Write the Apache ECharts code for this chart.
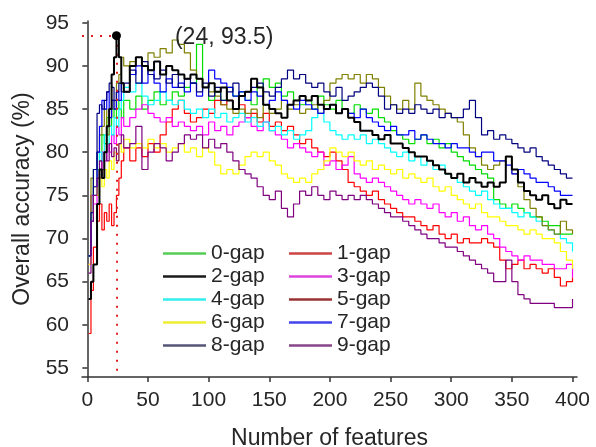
<!DOCTYPE html>
<html>
<head>
<meta charset="utf-8">
<script src="https://cdn.jsdelivr.net/npm/echarts@6/dist/echarts.min.js"></script>
<style>html,body{margin:0;padding:0;background:#fff;}#c{width:596px;height:447px;}</style>
</head>
<body>
<div id="c"></div>
<script>
// Number of features (x positions of samples)
const features = [1, 3, 5, 8, 10, 12, 14, 16, 18, 20, 22, 24, 26, 28, 30,
  35, 40, 45, 50, 55, 60, 65, 70, 75, 80,
  85, 90, 95, 100, 105, 110, 115, 120, 125, 130,
  135, 140, 145, 150, 155, 160, 165, 170, 175, 180,
  185, 190, 195, 200, 205, 210, 215, 220, 225, 230,
  235, 240, 245, 250, 255, 260, 265, 270, 275, 280,
  285, 290, 295, 300, 305, 310, 315, 320, 325, 330,
  335, 340, 345, 350, 355, 360, 365, 370, 375, 380,
  385, 390, 395, 400];

const gap0 = [68, 75, 78, 80, 79, 82, 81, 84, 83, 85, 84, 86, 85, 84, 86,
  85, 86.5, 85, 86, 87, 85.5, 86, 87, 86.5, 87.5,
  88, 92.5, 87.5, 86, 87, 86, 87.5, 86.5, 87, 86,
  85.5, 87.5, 88.5, 87.5, 88, 86.5, 87, 86, 85.5, 86,
  85, 86.5, 85.5, 85, 86, 85, 84.5, 85.5, 85, 84.5,
  85, 84, 83.5, 82.5, 82, 81.5, 81, 81.5, 82, 81,
  81.5, 80.5, 81, 80, 79.5, 79, 78.5, 78, 77.5, 77,
  74.5, 74, 73.5, 74, 73.5, 73, 72.5, 72.5, 72, 71.5,
  71.5, 70.5, 70.5, 70.5];

const gap1 = [59, 64, 69, 72, 74, 71, 73, 72, 74, 71.5, 73, 75, 77, 79, 80.5,
  79, 80.5, 79.5, 81, 80, 82, 83.5, 85, 86, 84.5,
  83.5, 84, 85, 84.5, 86, 85.5, 86, 85, 85.5, 84,
  84.5, 83.5, 84.5, 83, 83.5, 82.5, 83, 82, 81, 81.5,
  80.5, 80, 79.5, 80, 79, 78, 76.5, 76, 75.5, 75,
  75.5, 74.5, 74, 73.5, 73, 72.5, 72.5, 72, 71.5, 71,
  71.5, 70.5, 70, 70.5, 69.5, 70, 69.5, 69.5, 70, 69.5,
  69, 67.5, 66.5, 67, 67.5, 66.5, 67, 66.5, 66, 66.5,
  65.5, 64.5, 65, 65.5];

const gap2 = [63, 65, 67, 74, 78, 77, 80, 83, 85, 89, 91, 93.5, 91, 88, 87,
  90, 91, 90, 89.5, 90.5, 89, 90, 89.5, 89, 88.5,
  89, 88.5, 87.5, 88, 87, 87.5, 86, 85, 86.5, 87,
  88.5, 87.5, 85.5, 85, 84.5, 84, 85.5, 86, 86.5, 86,
  86.5, 85.5, 85, 85.5, 84.5, 85, 84, 83.5, 82.5, 82.5,
  82, 81.5, 82, 81, 81, 80.5, 80, 79.5, 79.5, 79,
  78.5, 78, 77.5, 77, 77.5, 76.5, 77, 76.5, 76, 76.5,
  76, 76.5, 79.5, 78, 76.5, 75.5, 75, 74.5, 75, 74,
  73.5, 74.5, 74, 74];

const gap3 = [67, 75, 74, 78, 77, 80, 79, 81, 80, 82, 81, 83, 82, 84, 83,
  84, 85, 85.5, 84.5, 84, 83.5, 84, 83, 83.5, 83,
  82.5, 83, 82, 83.5, 82.5, 83, 82, 83, 83.5, 84,
  83, 82.5, 83.5, 82.5, 82, 81.5, 80.5, 81, 80.5, 80,
  79.5, 80, 78.5, 79, 78, 78.5, 79.5, 77.5, 77, 76.5,
  77, 76.5, 76, 75.5, 75, 74.5, 74, 74.5, 74, 73.5,
  74, 73, 72.5, 73, 72, 72.5, 71.5, 71, 71.5, 70.5,
  70, 69, 68.5, 68, 67.5, 68, 67.5, 67.5, 67, 67,
  66.5, 66.5, 67, 65.5];

const gap4 = [68, 73, 75, 78, 80, 79, 82, 81, 83, 82, 84, 83, 85, 86, 87.5,
  87, 88, 86.5, 85.5, 86, 87, 86, 85.5, 86, 85,
  84.5, 85, 84, 85, 84, 84.5, 83.5, 84, 84.5, 83.5,
  84, 83, 83.5, 82.5, 83, 82, 82.5, 81.5, 82, 82.5,
  84, 84.5, 83.5, 82.5, 82, 81.5, 82, 81.5, 82, 81,
  81.5, 81, 80.5, 80, 79.5, 80, 79, 79.5, 78.5, 79,
  78, 78.5, 77.5, 77, 76.5, 76, 75.5, 75, 75.5, 74.5,
  74, 73.5, 73.5, 73, 72.5, 73, 72.5, 72, 71.5, 71,
  70.5, 70, 69.5, 68.5];

const gap5 = [68, 77, 76, 80, 82, 83, 85, 82, 84, 86, 85, 88, 89, 91, 90,
  90.5, 91, 90, 91.5, 91, 92, 91.5, 93, 92.5, 91.5,
  89.5, 88.5, 87.5, 87, 86.5, 85.5, 85, 84.5, 85, 84.5,
  85, 84, 85.5, 84.5, 85, 86, 85, 85.5, 84.5, 85,
  85.5, 84.5, 86, 88, 88.5, 89, 88.5, 89, 88, 89,
  88.5, 87.5, 86.5, 85.5, 85, 86, 85, 88, 86.5, 86,
  85.5, 85, 84.5, 84, 83.5, 82, 80.5, 79.5, 78.5, 78,
  78.5, 79, 79.5, 77.5, 76, 74.5, 73.5, 72.5, 71.5, 71,
  70.5, 72, 71, 70.5];

const gap6 = [67, 72, 76, 75, 77, 76, 78, 77, 79, 78, 80, 79, 81, 80, 81.5,
  80.5, 81, 80.5, 81.5, 80.5, 81, 80, 80.5, 81, 80,
  80.5, 79.5, 80.5, 80, 78.5, 77.5, 78, 77.5, 78.5, 79.5,
  80, 79.5, 80, 79, 78.5, 77.5, 77, 76.5, 77, 76.5,
  77.5, 78, 79, 80.5, 80, 79.5, 80, 79, 78.5, 79,
  78, 78.5, 78, 77.5, 78, 77, 77.5, 77, 76.5, 77,
  76, 75.5, 76, 75, 74.5, 74, 73.5, 74, 73, 72.5,
  72.5, 72, 71.5, 71.5, 71, 70.5, 71, 70.5, 70, 70,
  69.5, 68.5, 67.5, 66.5];

const gap7 = [68, 72, 76, 80, 83, 86, 85, 87, 84, 86, 85, 87, 86, 88, 87,
  89, 90, 88, 89.5, 88, 87, 88.5, 87.5, 88, 87,
  88, 86.5, 87.5, 89.5, 88.5, 88, 87.5, 86.5, 87, 86,
  87, 86.5, 85.5, 86, 87, 86, 85.5, 85, 86, 85.5,
  85, 84.5, 85, 85.5, 84.5, 85, 84.5, 84, 85, 84,
  83.5, 83, 82.5, 83, 82, 82, 82.5, 81.5, 82, 81.5,
  81, 81, 80.5, 81, 80.5, 80.5, 80, 79.5, 80, 80,
  79, 79, 78.5, 77.5, 78, 77.5, 77, 76.5, 76.5, 76,
  75.5, 75, 75, 75];

const gap8 = [68, 73, 78, 84.5, 85.5, 85, 86, 87, 88, 87.5, 86, 87, 88, 87, 88,
  89.5, 88, 90.5, 89, 88.5, 89.5, 88, 89, 87.5, 88.5,
  88, 87, 88, 86.5, 87.5, 86, 87, 88, 86.5, 87,
  87.5, 88, 87, 86.5, 87.5, 88.5, 89.5, 88.5, 89, 88,
  87.5, 88, 87, 86.5, 87.5, 86, 86.5, 87, 87.5, 88,
  87.5, 86.5, 85, 85.5, 84.5, 85, 84.5, 85.5, 85, 84.5,
  85, 84, 84.5, 84, 84, 85, 86, 84, 82, 82.5,
  81.5, 82, 81.5, 81, 80.5, 80, 80.5, 79.5, 79, 78.5,
  78, 77.5, 77, 77];

const gap9 = [66, 72, 75, 77, 79, 78, 80, 79, 81, 79.5, 80.5, 79, 81, 82, 80.5,
  81, 83, 78, 80, 81, 80.5, 79, 80, 81, 82,
  81.5, 82, 80.5, 81.5, 80.5, 81, 80, 79, 78, 77.5,
  77, 76, 75, 74.5, 75.5, 73.5, 72.5, 74, 75.5, 75,
  76, 75, 74.5, 75.5, 75, 74.5, 75, 74.5, 75, 74.5,
  74, 73.5, 73, 72.5, 72.5, 72, 71.5, 71, 70.5, 70,
  70, 69.5, 69, 69, 68.5, 68, 67.5, 67, 66.5, 66,
  65, 65, 67.5, 65, 63.5, 63, 62.5, 62.5, 62.5, 62.5,
  62, 62, 62, 63];

const seriesNames = ['0-gap', '1-gap', '2-gap', '3-gap', '4-gap', '5-gap', '6-gap', '7-gap', '8-gap', '9-gap'];
const seriesValues = [gap0, gap1, gap2, gap3, gap4, gap5, gap6, gap7, gap8, gap9];
const seriesColors = ['#00dd00', '#ff0000', '#000000', '#ff00ff', '#00ffff', '#808000', '#ffff00', '#0000ff', '#000080', '#800080'];
const legendColors = ['#55cc55', '#cc4444', '#1a1a1a', '#dd44dd', '#33eeee', '#993333', '#eeee33', '#4444ee', '#555577', '#884488'];

const xTicks = [0, 50, 100, 150, 200, 250, 300, 350, 400];
const yTicks = [55, 60, 65, 70, 75, 80, 85, 90, 95];
const peak = [24, 93.5];

const xMin = -4.4, xMax = 403.7, yMin = 53.96, yMax = 95.2;
const FONT = '"Liberation Sans", Arial, sans-serif';
const TXT = '#262626';

const chart = echarts.init(document.getElementById('c'), null, {renderer: 'canvas'});

const series = seriesNames.map((name, k) => {
  const s = {
    name: name,
    type: 'line',
    step: 'end',
    symbol: 'none',
    animation: false,
    color: seriesColors[k],
    lineStyle: {width: k === 2 ? 2 : 1.2, color: seriesColors[k]},
    data: features.map((f, i) => [f, seriesValues[k][i]]),
    z: k === 2 ? 5 : 2
  };
  if (k === 2) {
    s.markLine = {
      silent: true, symbol: 'none', animation: false,
      label: {show: false},
      lineStyle: {color: '#e02020', type: [2, 7], width: 2},
      data: [
        [{coord: [xMin, peak[1]]}, {coord: peak}],
        [{coord: peak}, {coord: [peak[0], yMin]}]
      ]
    };
    s.markPoint = {
      animation: false,
      data: [{
        coord: peak, symbol: 'circle', symbolSize: 9,
        itemStyle: {color: '#000'},
        label: {
          show: true, position: 'right', distance: 0, offset: [54, 2],
          formatter: '(' + peak[0] + ', ' + peak[1] + ')',
          fontSize: 23, color: TXT, fontFamily: FONT
        }
      }]
    };
  }
  return s;
});

function legendItem(k) {
  return {name: seriesNames[k], icon: 'rect', itemStyle: {color: legendColors[k], borderWidth: 0}};
}

const legendCommon = {
  orient: 'vertical', itemGap: 2, itemWidth: 43, itemHeight: 2.5,
  textStyle: {fontSize: 21, color: TXT, fontFamily: FONT},
  selectedMode: false
};

chart.setOption({
  animation: false,
  backgroundColor: '#fff',
  grid: {left: 82, right: 19, top: 21, bottom: 70, containLabel: false, outerBoundsMode: 'none'},
  legend: [
    Object.assign({left: 158, top: 238, data: [0, 2, 4, 6, 8].map(legendItem)}, legendCommon),
    Object.assign({left: 284, top: 238, data: [1, 3, 5, 7, 9].map(legendItem)}, legendCommon)
  ],
  xAxis: {
    type: 'value', min: xMin, max: xMax,
    name: 'Number of features', nameLocation: 'middle', nameGap: 50,
    nameTextStyle: {fontSize: 23, color: TXT, fontFamily: FONT},
    axisLine: {show: true, lineStyle: {color: '#333', width: 1.5}},
    axisTick: {show: true, length: 5, inside: false, customValues: xTicks, lineStyle: {color: '#333', width: 1.5}},
    axisLabel: {customValues: xTicks, fontSize: 21, color: TXT, fontFamily: FONT, margin: 13},
    splitLine: {show: false}
  },
  yAxis: {
    type: 'value', min: yMin, max: yMax,
    name: 'Overall accuracy (%)', nameLocation: 'middle', nameGap: 48,
    nameTextStyle: {fontSize: 23, color: TXT, fontFamily: FONT},
    axisLine: {show: true, lineStyle: {color: '#333', width: 1.5}},
    axisTick: {show: true, length: 5, inside: false, customValues: yTicks, lineStyle: {color: '#333', width: 1.5}},
    axisLabel: {customValues: yTicks, fontSize: 21, color: TXT, fontFamily: FONT, margin: 13},
    splitLine: {show: false}
  },
  series: series
});
</script>
</body>
</html>
